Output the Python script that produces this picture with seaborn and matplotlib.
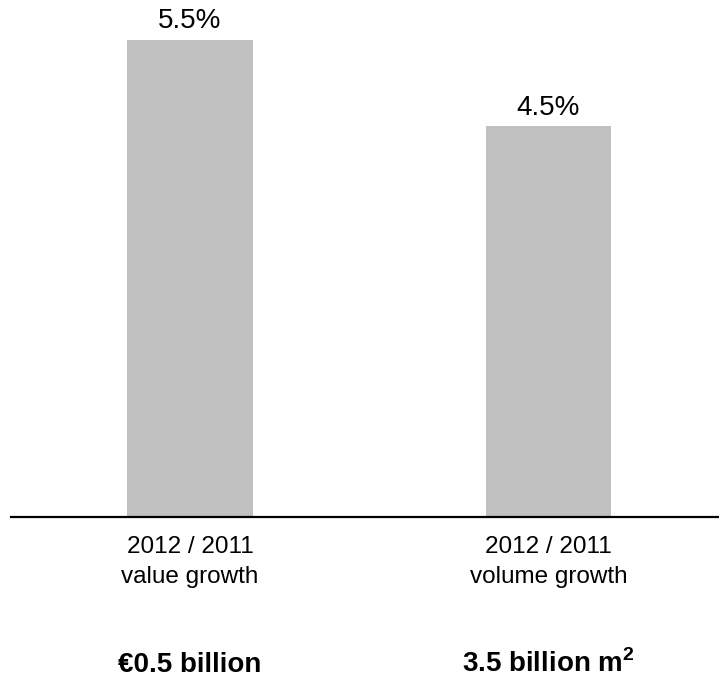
import matplotlib
matplotlib.use("Agg")
import matplotlib.pyplot as plt
import seaborn as sns
import pandas as pd

categories = ["2012 / 2011\nvalue growth", "2012 / 2011\nvolume growth"]
growth_values = [5.5, 4.5]
value_labels = ["5.5%", "4.5%"]
bottom_labels = ["€0.5 billion", r"3.5 billion m$^{\mathbf{2}}$"]

sns.set_theme(style="white")
plt.rcParams['font.family'] = ['Liberation Sans', 'DejaVu Sans']
plt.rcParams['mathtext.fontset'] = 'custom'
plt.rcParams['mathtext.rm'] = 'Liberation Sans'
plt.rcParams['mathtext.bf'] = 'Liberation Sans:bold'

df = pd.DataFrame({"category": categories, "growth": growth_values})

fig = plt.figure(figsize=(7.19, 6.8), dpi=100)
ax = fig.add_axes([11 / 719, 1 - 517 / 680, 708 / 719, 512 / 680])

sns.barplot(data=df, x="category", y="growth", color="#c0c0c0",
            saturation=1, width=0.35, linewidth=0, ax=ax)

ax.set_xlim(-0.4993, 1.4756)
ax.set_ylim(0, 5.9)

for container in ax.containers:
    ax.bar_label(container, labels=value_labels, padding=4, fontsize=20, color="black")

for s in ["top", "right", "left"]:
    ax.spines[s].set_visible(False)
ax.spines["bottom"].set_color("black")
ax.spines["bottom"].set_linewidth(1.6)

ax.set_yticks([])
ax.set_xlabel("")
ax.set_ylabel("")
ax.tick_params(axis="x", length=0, pad=14, labelsize=17.5, labelcolor="black")
for lbl in ax.get_xticklabels():
    lbl.set_linespacing(1.45)

for i, txt in enumerate(bottom_labels):
    ax.annotate(txt, xy=(i, 0), xycoords=("data", "axes fraction"),
                xytext=(0, -155), textcoords="offset pixels",
                ha="center", va="baseline", fontsize=20, fontweight="bold",
                color="black")

fig.savefig("out.png", dpi=100)
